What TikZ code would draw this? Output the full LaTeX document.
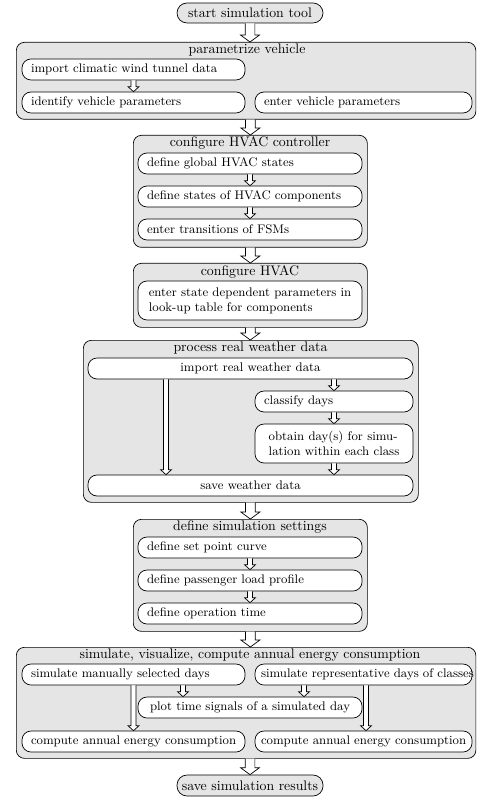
\documentclass[tikz,border=0pt]{standalone}
\usetikzlibrary{calc}
% one drawing unit, used for all positions and sizes
\def\u{0.723pt}
\tikzset{
  group/.style={draw=black, fill=gray!20, line width=0.5pt, rounded corners=8*\u, inner sep=0pt},
  gtitle/.style={inner sep=0pt, anchor=center},
  boxbase/.style={draw=black, fill=white, line width=0.5pt, rounded corners=9*\u, inner xsep=0pt, inner ysep=0pt,
             minimum width=#1*\u, minimum height=21*\u, font=\small},
  % single line, flush left, never broken
  ib/.style={boxbase=#1, text width=#1*\u-18*\u, align=left,
             execute at begin node=\hbox\bgroup, execute at end node=\egroup},
  % the same with a narrower margin
  ibn/.style={ib=#1, text width=#1*\u-12*\u},
  % single line, centred
  ibc/.style={boxbase=#1, align=center},
  % two lines, broken by hand
  ib2/.style={boxbase=#1, minimum height=39*\u, align=left},
  term/.style={draw=black, fill=gray!20, line width=0.5pt, rounded corners=10*\u, inner sep=0pt,
               minimum width=146*\u, minimum height=20*\u},
  blockarrow/.style args={#1/#2/#3}{draw=black, fill=white, line width=0.5pt,
    to path={let \p1=(\tikztostart), \p2=(\tikztotarget) in
      (\x1-#1,\y1) -- (\x1-#1,\y2+#3) -- (\x1-#2,\y2+#3) -- (\x1,\y2)
      -- (\x1+#2,\y2+#3) -- (\x1+#1,\y2+#3) -- (\x1+#1,\y1)}},
  bigarrow/.style={blockarrow=3.5pt/6.8pt/5pt},
  smallarrow/.style={blockarrow=1.8pt/4pt/3.6pt},
}
\begin{document}
\begin{tikzpicture}[x=\u, y=-\u]
\useasboundingbox (0,0) rectangle (476,798);

% start / end
\node[term] (start) at (250,13) {start simulation tool};

% parametrize vehicle
\node[group, minimum width=459.5*\u, minimum height=77*\u, anchor=north west] (c1) at (16,42) {};
\node[gtitle] (c1t) at (247,50) {parametrize vehicle};
\node[ib=223] (imp) at (133.5,69.5) {import climatic wind tunnel data};
\node[ib=223] (idv) at (133.5,102.5) {identify vehicle parameters};
\node[ib=217] (env) at (363.5,102.5) {enter vehicle parameters};

% configure HVAC controller
\node[group, minimum width=234*\u, minimum height=112*\u, anchor=north west] (c2) at (133,135) {};
\node[gtitle] (c2t) at (250,143) {configure HVAC controller};
\node[ib=224] (g1) at (250,163.5) {define global HVAC states};
\node[ib=224] (g2) at (250,196.5) {define states of HVAC components};
\node[ib=224] (g3) at (250,229.5) {enter transitions of FSMs};

% configure HVAC
\node[group, minimum width=234*\u, minimum height=64*\u, anchor=north west] (c3) at (133,263) {};
\node[gtitle] (c3t) at (250,272) {configure HVAC};
\node[ib2=224] (h1) at (250,300.5) {enter state dependent parameters in\\look-up table for components};

% process real weather data
\node[group, minimum width=335*\u, minimum height=162*\u, anchor=north west] (c4) at (83,340) {};
\node[gtitle] (c4t) at (250.5,348) {process real weather data};
\node[ibc=325] (w1) at (250.5,368.5) {import real weather data};
\node[ib=158] (w2) at (334,401.5) {classify days};
\node[ib2=158] (w3) at (334,443.5) {obtain day(s) for simu-\\lation within each class};
\node[ibc=325] (w4) at (250.5,485.5) {save weather data};

% define simulation settings
\node[group, minimum width=234*\u, minimum height=112*\u, anchor=north west] (c5) at (133,519) {};
\node[gtitle] (c5t) at (250,527) {define simulation settings};
\node[ib=224] (s1) at (250,547.5) {define set point curve};
\node[ib=224] (s2) at (250,580.5) {define passenger load profile};
\node[ib=224] (s3) at (250,613.5) {define operation time};

% simulate, visualize, compute
\node[group, minimum width=459.5*\u, minimum height=111*\u, anchor=north west] (c6) at (16,647) {};
\node[gtitle] (c6t) at (250,655) {simulate, visualize, compute annual energy consumption};
\node[ib=223] (m1) at (133.5,674.5) {simulate manually selected days};
\node[ibn=217] (m2) at (363.5,674.5) {simulate representative days of classes};
\node[ibc=224] (pl) at (250,707.5) {plot time signals of a simulated day};
\node[ib=223] (e1) at (133.5,741.5) {compute annual energy consumption};
\node[ibn=217] (e2) at (363.5,741.5) {compute annual energy consumption};

\node[term, minimum height=21*\u] (stop) at (250,785.5) {save simulation results};

% x positions of off-centre connectors
\coordinate (xa) at (183,0);
\coordinate (xb) at (304,0);
\coordinate (xc) at (166,0);
\coordinate (xd) at (366,0);

% connectors between groups
\draw[bigarrow] (start.south) to (c1.north -| start.south);
\draw[bigarrow] (c1.south -| c2.north) to (c2.north);
\draw[bigarrow] (c2.south) to (c3.north);
\draw[bigarrow] (c3.south) to (c4.north -| c3.south);
\draw[bigarrow] (c4.south -| c5.north) to (c5.north);
\draw[bigarrow] (c5.south) to (c6.north -| c5.south);
\draw[bigarrow] (c6.south -| stop.north) to (stop.north);

% connectors inside groups
\draw[smallarrow] (imp.south) to (idv.north);
\draw[smallarrow] (g1.south) to (g2.north);
\draw[smallarrow] (g2.south) to (g3.north);
\draw[smallarrow] (w1.south -| w2.north) to (w2.north);
\draw[smallarrow] (w2.south) to (w3.north);
\draw[smallarrow] (w3.south) to (w4.north -| w3.south);
\draw[smallarrow] (w1.south -| xc) to (w4.north -| xc);
\draw[smallarrow] (s1.south) to (s2.north);
\draw[smallarrow] (s2.south) to (s3.north);
\draw[smallarrow] (m1.south -| xa) to (pl.north -| xa);
\draw[smallarrow] (m2.south -| xb) to (pl.north -| xb);
\draw[smallarrow] (m1.south) to (e1.north);
\draw[smallarrow] (m2.south -| xd) to (e2.north -| xd);
\end{tikzpicture}
\end{document}
